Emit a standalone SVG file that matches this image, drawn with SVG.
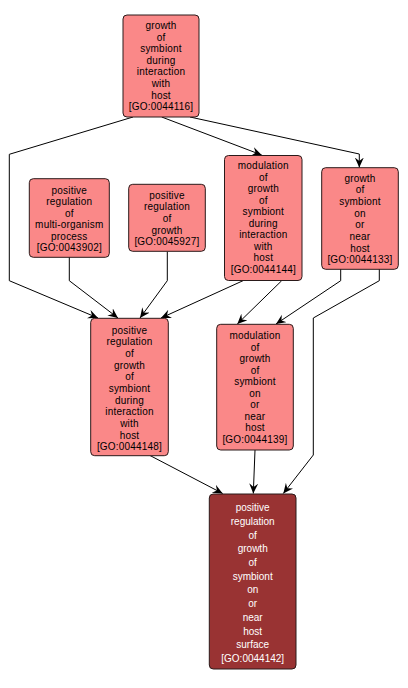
<svg xmlns="http://www.w3.org/2000/svg" width="408" height="688" viewBox="0 0 408 688">
<defs>
<style>
.n rect{fill:#fa8888;stroke:#2a1a1a;stroke-width:1}
.d rect{fill:#993333;stroke:#2a1a1a;stroke-width:1}
.n text{font-family:"Liberation Sans",Arial,sans-serif;font-size:10px;fill:#000;text-anchor:middle;letter-spacing:0.2px}
.d text{font-family:"Liberation Sans",Arial,sans-serif;font-size:10px;fill:#fff;text-anchor:middle}
.e polyline{fill:none;stroke:#000;stroke-width:1;marker-end:url(#a)}
</style>
<marker id="a" markerUnits="userSpaceOnUse" markerWidth="12" markerHeight="10" refX="10" refY="4.5" orient="auto">
<path d="M0,0 L10,4.5 L0,9 L3.5,4.5 Z" fill="#000"/>
</marker>
</defs>
<rect width="408" height="688" fill="#fff"/>
<g class="e" id="edges">
<polyline points="133,117 9.3,154.3 9.3,280.7 98,318"/>
<polyline points="69.3,257 69.3,280.7 118,318"/>
<polyline points="167.3,251.5 167.3,280.7 140,318"/>
<polyline points="243,280.7 161,318"/>
<polyline points="161.7,117 261.7,155"/>
<polyline points="190,117 359.3,154 359.3,167.5"/>
<polyline points="281.7,280.7 237.3,324"/>
<polyline points="340.7,269 340.7,280.7 276,324"/>
<polyline points="379.3,269 379.3,280.7 313.3,318 313.3,455 283.3,493.5"/>
<polyline points="150,455.5 222.7,493.5"/>
<polyline points="255,450 253.3,493.5"/>
</g>
<g class="n" id="GO0044116">
<rect x="123" y="15" width="76" height="102" rx="4"/>
<text x="161" y="29"><tspan x="161">growth</tspan><tspan x="161" dy="11.6">of</tspan><tspan x="161" dy="11.6">symbiont</tspan><tspan x="161" dy="11.6">during</tspan><tspan x="161" dy="11.6">interaction</tspan><tspan x="161" dy="11.6">with</tspan><tspan x="161" dy="11.6">host</tspan><tspan x="161" dy="11.6">[GO:0044116]</tspan></text>
</g>
<g class="n" id="GO0043902">
<rect x="29.3" y="178.7" width="80" height="78.6" rx="4"/>
<text x="69.3" y="193.5"><tspan x="69.3">positive</tspan><tspan x="69.3" dy="11.5">regulation</tspan><tspan x="69.3" dy="11.5">of</tspan><tspan x="69.3" dy="11.5">multi-organism</tspan><tspan x="69.3" dy="11.5">process</tspan><tspan x="69.3" dy="11.5">[GO:0043902]</tspan></text>
</g>
<g class="n" id="GO0045927">
<rect x="128.7" y="184.3" width="76.6" height="67" rx="4"/>
<text x="167" y="198.5"><tspan x="167">positive</tspan><tspan x="167" dy="11.7">regulation</tspan><tspan x="167" dy="11.7">of</tspan><tspan x="167" dy="11.7">growth</tspan><tspan x="167" dy="11.7">[GO:0045927]</tspan></text>
</g>
<g class="n" id="GO0044144">
<rect x="224.5" y="155.5" width="77.5" height="125" rx="4"/>
<text x="263.3" y="169.2"><tspan x="263.3">modulation</tspan><tspan x="263.3" dy="11.5">of</tspan><tspan x="263.3" dy="11.5">growth</tspan><tspan x="263.3" dy="11.5">of</tspan><tspan x="263.3" dy="11.5">symbiont</tspan><tspan x="263.3" dy="11.5">during</tspan><tspan x="263.3" dy="11.5">interaction</tspan><tspan x="263.3" dy="11.5">with</tspan><tspan x="263.3" dy="11.5">host</tspan><tspan x="263.3" dy="11.5">[GO:0044144]</tspan></text>
</g>
<g class="n" id="GO0044133">
<rect x="321.7" y="167.7" width="76.6" height="101.6" rx="4"/>
<text x="360" y="181.8"><tspan x="360">growth</tspan><tspan x="360" dy="11.67">of</tspan><tspan x="360" dy="11.67">symbiont</tspan><tspan x="360" dy="11.67">on</tspan><tspan x="360" dy="11.67">or</tspan><tspan x="360" dy="11.67">near</tspan><tspan x="360" dy="11.67">host</tspan><tspan x="360" dy="11.67">[GO:0044133]</tspan></text>
</g>
<g class="n" id="GO0044148">
<rect x="90.7" y="318.3" width="77.6" height="137.4" rx="4"/>
<text x="129.5" y="333.5"><tspan x="129.5">positive</tspan><tspan x="129.5" dy="11.67">regulation</tspan><tspan x="129.5" dy="11.67">of</tspan><tspan x="129.5" dy="11.67">growth</tspan><tspan x="129.5" dy="11.67">of</tspan><tspan x="129.5" dy="11.67">symbiont</tspan><tspan x="129.5" dy="11.67">during</tspan><tspan x="129.5" dy="11.67">interaction</tspan><tspan x="129.5" dy="11.67">with</tspan><tspan x="129.5" dy="11.67">host</tspan><tspan x="129.5" dy="11.67">[GO:0044148]</tspan></text>
</g>
<g class="n" id="GO0044139">
<rect x="216.7" y="324.3" width="76.6" height="125.7" rx="4"/>
<text x="255" y="339.2"><tspan x="255">modulation</tspan><tspan x="255" dy="11.5">of</tspan><tspan x="255" dy="11.5">growth</tspan><tspan x="255" dy="11.5">of</tspan><tspan x="255" dy="11.5">symbiont</tspan><tspan x="255" dy="11.5">on</tspan><tspan x="255" dy="11.5">or</tspan><tspan x="255" dy="11.5">near</tspan><tspan x="255" dy="11.5">host</tspan><tspan x="255" dy="11.5">[GO:0044139]</tspan></text>
</g>
<g class="d" id="GO0044142">
<rect x="209.3" y="494" width="86.7" height="175" rx="4"/>
<text x="252.7" y="511.2"><tspan x="252.7">positive</tspan><tspan x="252.7" dy="13.7">regulation</tspan><tspan x="252.7" dy="13.7">of</tspan><tspan x="252.7" dy="13.7">growth</tspan><tspan x="252.7" dy="13.7">of</tspan><tspan x="252.7" dy="13.7">symbiont</tspan><tspan x="252.7" dy="13.7">on</tspan><tspan x="252.7" dy="13.7">or</tspan><tspan x="252.7" dy="13.7">near</tspan><tspan x="252.7" dy="13.7">host</tspan><tspan x="252.7" dy="13.7">surface</tspan><tspan x="252.7" dy="13.7">[GO:0044142]</tspan></text>
</g>
</svg>
